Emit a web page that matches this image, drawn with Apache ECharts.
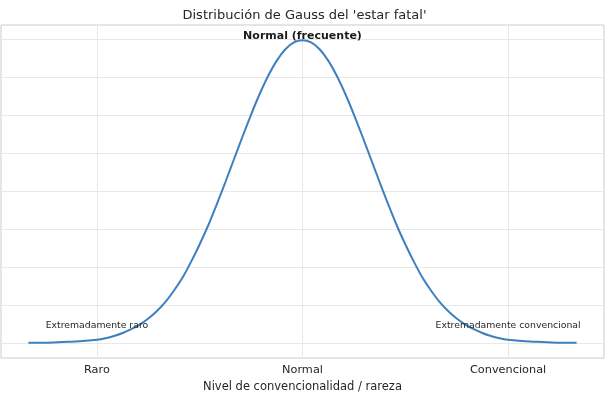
<!DOCTYPE html>
<html>
<head>
  <meta charset="utf-8" />
  <title>Distribución de Gauss</title>
  <style>
    html, body { margin: 0; padding: 0; background: #fff; }
    #chart { width: 609px; height: 398px; }
  </style>
</head>
<body>
  <div id="chart"></div>
  <script src="https://cdn.jsdelivr.net/npm/echarts@6/dist/echarts.min.js"></script>
  <script>
    // curve points
    var xVals = [-4, -3.75, -3.5, -3.25, -3, -2.875, -2.75, -2.625, -2.5, -2.375, -2.25, -2.125, -2, -1.875, -1.75, -1.625,
                 -1.5, -1.375, -1.25, -1.125, -1, -0.875, -0.75, -0.625, -0.5, -0.375, -0.25, -0.125, 0,
                 0.125, 0.25, 0.375, 0.5, 0.625, 0.75, 0.875, 1, 1.125, 1.25, 1.375, 1.5, 1.625, 1.75, 1.875,
                 2, 2.125, 2.25, 2.375, 2.5, 2.625, 2.75, 2.875, 3, 3.25, 3.5, 3.75, 4];
    var yVals = [0.000, 0.000, 0.001, 0.002, 0.004, 0.006, 0.009, 0.013, 0.018, 0.024, 0.032, 0.042, 0.054, 0.069, 0.086, 0.107,
                 0.130, 0.155, 0.183, 0.212, 0.242, 0.272, 0.301, 0.328, 0.352, 0.372, 0.387, 0.396, 0.399,
                 0.396, 0.387, 0.372, 0.352, 0.328, 0.301, 0.272, 0.242, 0.212, 0.183, 0.155, 0.130, 0.107, 0.086, 0.069,
                 0.054, 0.042, 0.032, 0.024, 0.018, 0.013, 0.009, 0.006, 0.004, 0.002, 0.001, 0.000, 0.000];
    var xTicks = [-3, 0, 3];
    var xTickLabels = ['Raro', 'Normal', 'Convencional'];
    var yGrid = [0, 0.05, 0.10, 0.15, 0.20, 0.25, 0.30, 0.35, 0.40];
    var notes = [
      { x: 0, y: 0.404, text: 'Normal (frecuente)', bold: true },
      { x: -3, y: 0.023, text: 'Extremadamente raro', bold: false },
      { x: 3, y: 0.023, text: 'Extremadamente convencional', bold: false }
    ];

    var fontFamily = 'DejaVu Sans';
    var gridColor = '#e8e8e8';
    var textColor = '#262626';

    var lineData = xVals.map(function (x, i) { return [x, yVals[i]]; });

    var markLines = [];
    xTicks.forEach(function (v) { markLines.push({ xAxis: v }); });
    yGrid.forEach(function (v) { markLines.push({ yAxis: v }); });

    var noteData = notes.map(function (n) {
      return {
        value: [n.x, n.y],
        label: {
          formatter: n.text,
          fontWeight: n.bold ? 'bold' : 'normal',
          fontSize: n.bold ? 11 : 9.3,
          color: n.bold ? '#1a1a1a' : '#262626'
        }
      };
    });

    var chart = echarts.init(document.getElementById('chart'));
    var option = {
      animation: false,
      title: {
        text: "Distribución de Gauss del 'estar fatal'",
        left: 'center',
        top: 4,
        textStyle: { fontFamily: fontFamily, fontSize: 13, fontWeight: 'normal', color: textColor }
      },
      grid: {
        left: 1, right: 5, top: 25, bottom: 40,
        outerBoundsMode: 'none',
        containLabel: false,
        show: true, borderColor: '#cccccc', borderWidth: 1
      },
      xAxis: {
        type: 'value',
        min: -4.4, max: 4.4,
        name: 'Nivel de convencionalidad / rareza',
        nameLocation: 'middle',
        nameGap: 22,
        nameTextStyle: { fontFamily: fontFamily, fontSize: 11.5, color: textColor },
        axisLine: { show: false },
        axisTick: { show: false },
        splitLine: { show: false },
        axisLabel: {
          customValues: xTicks,
          margin: 7,
          fontFamily: fontFamily, fontSize: 11.3, color: textColor,
          formatter: function (v) {
            var i = xTicks.indexOf(v);
            return i >= 0 ? xTickLabels[i] : '';
          }
        }
      },
      yAxis: {
        type: 'value',
        min: -0.02, max: 0.419,
        axisLine: { show: false },
        axisTick: { show: false },
        axisLabel: { show: false },
        splitLine: { show: false }
      },
      series: [{
        type: 'line',
        data: lineData,
        smooth: 0.3,
        showSymbol: false,
        lineStyle: { color: '#3d80bf', width: 2 },
        z: 5,
        markLine: {
          silent: true,
          symbol: 'none',
          label: { show: false },
          lineStyle: { color: gridColor, width: 1, type: 'solid' },
          data: markLines,
          z: 1
        }
      }, {
        type: 'scatter',
        data: noteData,
        symbolSize: 0,
        silent: true,
        z: 10,
        itemStyle: { opacity: 1 },
        label: { show: true, position: 'inside', fontFamily: fontFamily, color: textColor }
      }]
    };
    chart.setOption(option);
  </script>
</body>
</html>
